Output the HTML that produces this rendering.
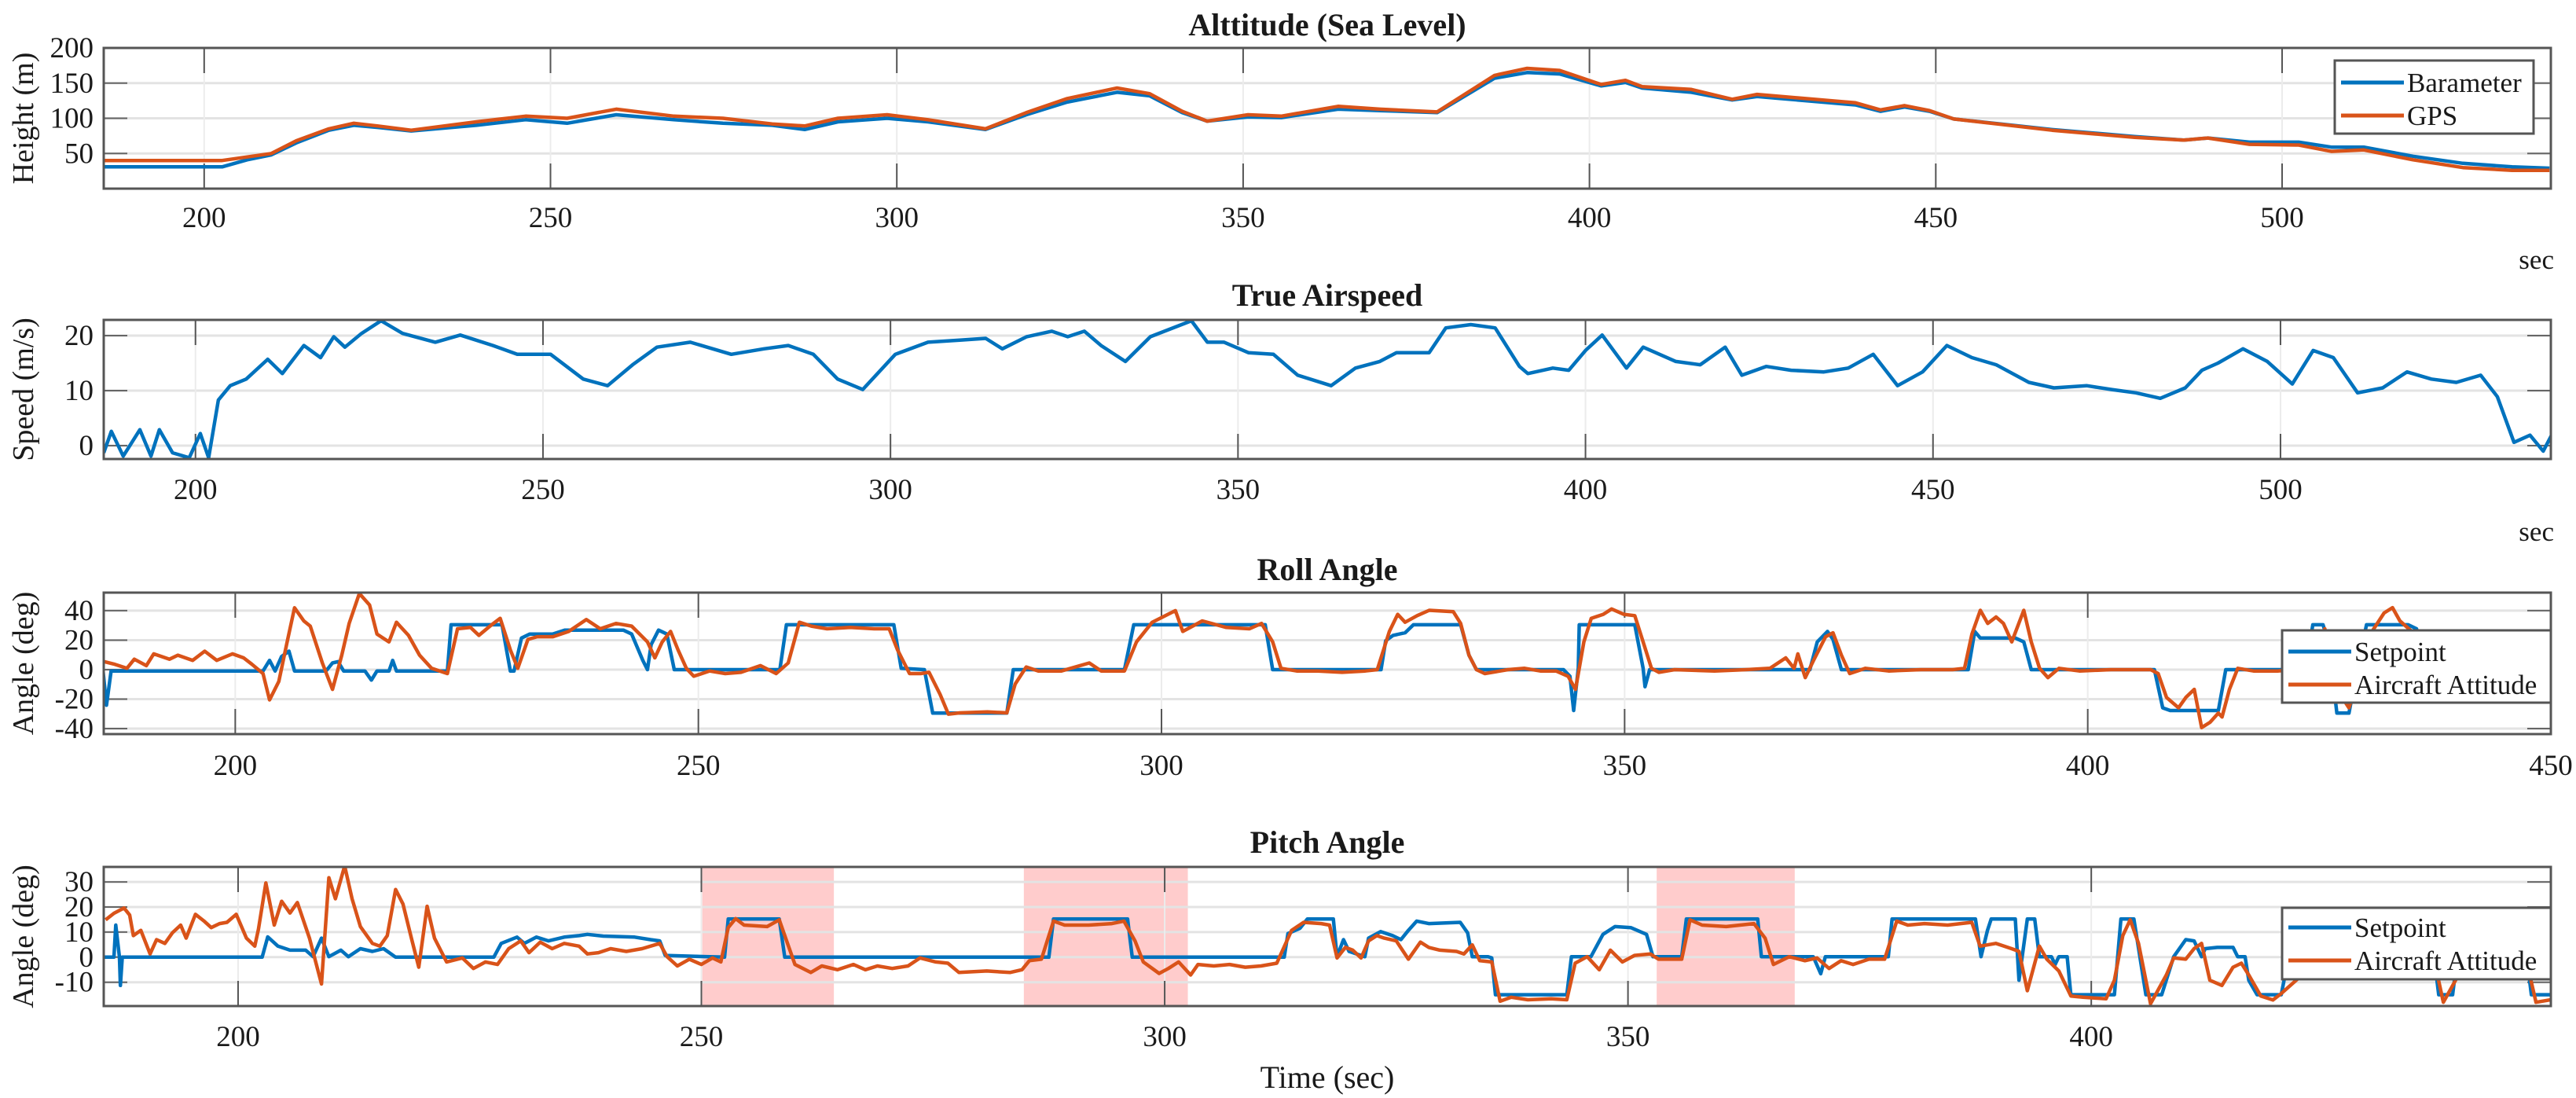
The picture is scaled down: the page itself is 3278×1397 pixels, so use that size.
<!DOCTYPE html>
<html><head><meta charset="utf-8"><style>
html,body{margin:0;padding:0;background:#fff;}
svg{display:block;}
text{font-family:"Liberation Serif",serif;fill:#1a1a1a;}
</style></head><body>
<svg id="fig" width="3278" height="1397" viewBox="0 0 3278 1397" xmlns="http://www.w3.org/2000/svg"></svg>
<script>
// ---------- Altitude data ----------
const altTime=[185.5,202.6,206.2,209.7,213.3,218.0,221.6,225.1,229.9,239.3,246.4,252.4,259.5,267.8,274.9,282.0,286.7,291.5,298.6,304.5,312.8,318.7,324.6,331.8,336.5,341.2,344.8,350.7,355.5,363.7,369.7,378.0,386.3,391.0,395.7,401.7,405.2,407.6,414.7,420.6,424.2,438.4,442.0,445.5,449.1,452.6,466.8,478.7,485.8,489.3,495.3,502.4,507.1,511.8,518.9,526.1,533.2,538.6];
const baroHeight=[31,31,41,48,65,83,90,87,82,90,98,93,105,98,93,90,84,95,100,95,84,105,123,137,132,108,96,102,101,113,111,108,157,165,163,146,151,143,137,126,131,119,110,116,110,99,84,74,69,72,66,66,59,59,46,36,31,29];
const gpsHeight=[40,40,45,50,68,85,93,89,83,95,103,100,113,103,100,92,89,100,105,98,85,108,128,143,135,110,96,105,103,117,113,109,161,171,168,148,154,145,141,127,134,122,112,118,111,99,83,73,69,72,63,62,53,55,41,30,26,26];
const altYTicks=[50,100,150,200];
const wideXTicks=[200,250,300,350,400,450,500];

// ---------- Airspeed data ----------
const tasTime=[186.8,187.9,189.6,192.0,193.6,194.8,196.7,199.1,200.7,201.9,203.3,205.0,207.3,210.4,212.5,215.6,218.0,219.9,221.5,223.9,226.7,229.8,234.5,238.1,242.8,246.3,251.1,255.8,259.3,262.9,266.4,271.2,277.1,281.8,285.3,288.9,292.4,296.0,300.7,305.4,310.2,313.7,316.1,319.6,323.2,325.5,327.9,330.3,333.8,337.4,343.3,345.6,348.0,351.5,355.1,358.6,363.4,366.9,370.4,372.8,377.5,379.9,383.5,387.0,390.5,391.7,395.3,397.6,400.0,402.4,405.9,408.3,413.0,416.5,420.1,422.5,426.0,429.6,434.3,437.8,441.4,444.9,448.5,452.0,455.6,459.1,463.8,467.4,472.1,475.7,479.2,482.7,486.3,488.7,491.0,494.6,498.1,501.7,504.7,507.6,511.1,514.7,518.2,521.7,525.3,528.8,531.2,533.6,535.9,537.8,539.0];
const tasSpeed=[-1.3,2.6,-1.9,2.9,-1.9,2.9,-1.3,-2.2,2.2,-2.2,8.3,10.9,12.1,15.7,13.1,18.2,16.0,19.8,17.9,20.4,22.7,20.4,18.8,20.1,18.2,16.6,16.6,12.1,10.9,14.7,17.9,18.8,16.6,17.6,18.2,16.6,12.1,10.2,16.6,18.8,19.2,19.5,17.6,19.8,20.8,19.8,20.8,18.2,15.3,19.8,22.7,18.8,18.8,16.9,16.6,12.8,10.9,14.1,15.3,16.9,16.9,21.4,22.0,21.4,14.4,13.1,14.1,13.7,17.3,20.1,14.1,17.9,15.3,14.7,17.9,12.8,14.4,13.7,13.4,14.1,16.6,10.9,13.4,18.2,16.0,14.7,11.5,10.5,10.9,10.2,9.6,8.6,10.5,13.7,15.0,17.6,15.3,11.2,17.3,16.0,9.6,10.5,13.4,12.1,11.5,12.8,8.9,0.6,1.9,-1.0,1.9];
const tasYTicks=[0,10,20];

// ---------- Roll data ----------
const rollAttTime=[185.3,187.0,188.3,189.1,190.4,191.2,192.9,193.8,195.4,196.7,198.0,199.7,200.9,201.8,203.0,203.7,204.7,205.6,206.4,207.4,208.1,209.4,210.5,211.5,212.3,213.4,214.5,215.3,216.6,217.4,218.7,219.9,221.2,222.9,224.0,225.4,226.3,227.5,228.6,229.7,230.5,231.6,232.6,234.3,236.0,237.9,239.4,241.1,242.8,244.5,245.3,246.1,247.0,247.8,248.7,249.5,251.2,252.9,254.6,256.7,258.4,259.7,260.9,262.2,263.9,266.4,269.0,270.6,271.5,272.8,274.0,274.9,276.1,277.0,278.2,281.2,283.3,284.2,285.4,286.7,289.2,292.2,293.5,296.0,297.3,299.0,301.5,302.3,304.4,307.0,309.5,310.8,312.0,312.9,314.6,316.9,319.5,322.0,323.3,324.6,325.5,326.3,327.6,328.9,331.5,332.3,333.2,334.0,334.9,337.4,339.2,340.9,342.6,343.9,344.7,345.6,346.4,347.7,348.6,349.9,351.1,352.0,352.9,353.7,355.4,359.7,363.1,365.7,367.4,368.3,368.7,369.5,370.4,371.7,372.5,373.4,374.3,376.0,378.5,382.0,385.4,386.7,387.5,388.4,389.2,390.1,390.9,391.8,393.1,393.9,394.8,395.7,396.9,399.1,402.5,406.8,407.6,408.5,409.8,410.6,411.5,412.3,413.2,414.1,414.5,415.3,416.2,417.9,420.5,423.9,425.6,426.9,428.2,429.0,430.7,432.0,432.9,433.7,435.0,437.0,440.0,450.0];
const rollAttitude=[6.3,3.6,0.9,7.1,2.7,10.7,7.1,9.8,6.3,12.5,6.3,10.7,8.0,3.6,-2.7,-20.5,-8.0,18.8,41.9,33,29.5,4.5,-13.4,9.8,31.3,51.6,43.8,24.1,18.8,32.1,23.2,9.8,0.9,-2.7,27.7,28.6,23.2,29.5,34.8,13.4,0.9,20.5,22.3,22.3,25.9,33.9,27.7,31.3,29.5,18.8,8.0,18.8,25.9,13.4,0.9,-4.5,-0.9,-2.7,-1.8,2.7,-2.7,4.5,32.1,29.5,27.7,28.6,27.7,27.7,13.4,-2.7,-2.7,-1.8,-16.8,-30.2,-29.3,-28.6,-29.3,-9.8,1.8,-0.9,-0.9,4.5,-0.9,-0.9,18.8,32.1,40,25.9,33,28.6,27.7,31.3,18.8,0.9,-0.9,-0.9,-1.8,-0.9,0,25.9,37.5,32.1,36.6,40.2,39.3,31.3,9.8,0,-2.7,0,0.9,-0.9,-0.9,-4.5,-13.4,18.8,34.8,37.5,41.1,37.5,36.6,18.8,0.9,-1.8,0,-0.9,0,0.9,8.0,0.9,10.7,-5.4,6.3,22.3,25,9.8,-2.7,0.9,-0.9,0,0,0.9,24.1,40.2,31.3,35.7,31.3,18.8,40.2,18.8,0.9,-5.4,0.9,-0.9,0,0,-2.7,-18.8,-25.9,-18.8,-13.4,-39.3,-35.7,-29.5,-32.1,-13.4,0.9,-0.9,-0.9,0.9,27.7,-13.4,-25.9,-9.8,25.9,38.4,42,33,25.9,0,0,0];
const rollSpTime=[185.3,185.7,186.1,186.6,203.0,203.7,204.3,205.0,205.8,206.4,209.8,210.5,211.1,211.7,214.0,214.7,215.3,216.6,217.0,217.4,222.9,223.3,228.8,229.7,230.1,230.9,231.8,234.3,235.6,241.9,242.8,244.0,244.5,244.9,245.7,246.6,247.4,258.8,259.5,271.1,271.9,274.4,275.3,283.3,284.0,296.0,297.0,311.2,312.0,316.9,323.7,324.2,325.0,326.3,327.2,332.3,333.2,334.0,343.4,344.1,344.5,345.0,345.1,351.1,352.0,352.2,352.7,370.0,370.8,371.9,372.5,373.4,387.1,387.8,388.4,392.2,393.1,393.9,407.2,408.1,408.9,414.1,414.9,423.5,424.3,425.4,426.0,426.9,428.2,429.0,430.1,434.6,435.5,436.3,450.0];
const rollSetpoint=[14.3,0.9,-24.1,-0.9,-0.9,6.3,-0.9,8.9,12.5,-0.9,-0.9,4.5,5.4,-0.9,-0.9,-7.1,-0.9,-0.9,6.3,-0.9,-0.9,30.4,30.4,-0.9,-0.9,21.4,24.1,24.1,26.8,26.8,24.1,6.3,0,17.0,26.8,24.1,0,0,30.4,30.4,0.9,0,-29.5,-29.5,0,0,30.4,30.4,0,0,0,19.6,23.2,25,30.4,30.4,9.8,0,0,-4.5,-27.7,0.9,30.4,30.4,0.9,-11.6,0,0,18.8,25.9,20.5,0,0,25.9,21.4,21.4,18.8,0,0,-25.9,-27.7,-27.7,0,0,30.4,30.4,18.8,-29.5,-29.5,-2.7,30.4,30.4,27.7,0,0];
const rollYTicks=[-40,-20,0,20,40];
const shortXTicks=[200,250,300,350,400,450];

// ---------- Pitch data ----------
const pitchAttTime=[185.7,186.6,187.7,188.3,188.7,189.5,190.5,191.2,192.1,192.9,193.8,194.4,195.4,196.3,197.1,198.0,198.8,199.8,200.9,201.8,202.2,203.0,203.9,204.7,205.6,206.4,207.7,209.0,209.8,210.5,211.5,212.3,213.2,214.5,215.3,216.1,217.0,217.8,218.7,219.5,220.4,221.2,222.5,224.2,225.4,226.7,228.0,229.2,230.5,231.4,232.6,233.9,235.2,236.8,237.7,238.9,240.2,241.9,243.6,245.5,246.3,247.4,248.7,250.0,251.2,252.1,252.9,253.7,254.6,257.1,258.4,259.2,260.1,261.8,263.0,264.7,266.4,267.7,269.0,270.6,272.3,273.6,275.3,276.6,277.8,280.8,283.3,284.6,285.4,286.7,288.0,289.2,291.8,294.3,295.6,296.8,297.7,299.4,300.4,301.5,302.8,303.6,305.3,307.0,308.7,310.4,312.1,313.7,315.0,316.9,317.8,318.6,319.5,320.3,321.2,322.0,322.9,323.7,325.0,326.3,327.6,328.5,329.7,331.5,332.3,333.2,334.0,335.3,336.2,337.4,339.2,341.7,343.4,344.3,345.6,346.9,348.1,349.4,350.7,352.4,353.3,355.8,356.7,358.0,360.6,363.6,364.8,365.7,367.4,369.1,370.4,371.7,373.0,374.3,376.0,377.7,379.0,380.2,382.0,384.5,387.1,388.0,389.7,391.4,392.2,393.1,394.4,395.2,396.5,397.8,399.1,401.6,402.5,403.4,404.2,405.1,406.4,408.1,408.9,410.2,411.1,411.9,412.8,414.1,415.3,416.2,417.0,418.3,419.6,420.5,424.0,430.0,437.0,438.0,439.5,442.0,447.0,448.0,449.6];
const pitchAttitude=[14.9,17.5,19.6,16.8,8.6,10.7,1.3,7.0,5.5,9.7,12.8,7.6,17.1,14.5,11.8,13.4,13.9,17.1,7.6,4.4,11.2,29.6,12.8,22.3,17.6,21.8,7.6,-10.7,31.7,23.3,36.4,23.3,12.2,5.5,4.4,8.6,27.0,21.2,7.6,-4.0,20.3,7.6,-1.9,-0.3,-4.5,-1.9,-2.9,3.4,6.5,1.8,6.0,3.4,5.5,4.4,1.3,1.8,3.4,2.3,3.4,5.5,0.2,-3.5,-0.8,-2.9,-0.3,-1.9,11.8,15.4,12.8,12.2,14.9,6.5,-2.9,-6.1,-3.5,-5.0,-2.9,-5.0,-3.5,-4.5,-3.5,-0.3,-1.9,-2.4,-6.1,-5.5,-6.1,-5.0,-1.4,-0.8,14.4,12.8,12.8,13.4,14.4,6.5,-1.9,-6.5,-4.5,-1.9,-7.1,-2.9,-3.5,-2.9,-4.0,-3.5,-2.4,10.7,13.9,13.4,12.8,-0.3,3.9,2.8,-0.3,6.5,8.6,7.6,6.5,-0.8,6.0,3.9,2.8,2.3,1.3,4.9,-1.4,-1.9,-17.6,-16.0,-17.0,-16.6,-17.0,-2.4,0.2,-5.0,2.8,-1.9,0.7,1.3,-0.8,-0.8,14.9,12.8,12.2,13.4,7.6,-2.9,0.2,-1.4,-0.3,-4.5,-1.4,-2.9,-0.8,-0.8,14.4,12.8,13.4,12.8,13.9,4.4,5.5,3.4,2.3,-13.4,4.4,-0.8,-5.5,-15.5,-16.0,-16.6,-9.2,8.6,14.9,5.5,-18.6,-7.1,-0.3,-0.8,3.4,5.5,-9.2,-11.3,-4.0,-2.4,-7.1,-15.5,-17.1,-14.5,-3,-5,-1,-18,-8,-3,-2,-18,-17];
const pitchSpTime=[185.3,186.6,186.8,187.2,187.3,187.5,202.6,203.2,204.3,205.6,207.3,208.1,209.0,209.8,211.1,211.9,213.2,214.5,215.7,217.0,227.6,228.4,230.1,230.9,232.2,233.5,235.2,236.8,237.7,239.4,242.8,244.5,245.5,246.1,252.5,252.9,258.4,259.0,287.5,288.0,296.0,296.5,312.9,313.3,314.6,315.4,318.2,318.6,319.3,319.9,321.6,322.0,323.3,324.6,325.5,326.3,327.2,328.5,331.9,332.7,333.2,334.9,335.3,335.7,343.4,343.9,346.0,347.3,348.6,350.3,352.0,352.7,355.8,356.3,364.0,364.4,370.0,370.8,371.3,378.1,378.5,387.5,388.1,388.8,389.2,391.8,392.2,393.1,393.9,394.4,395.7,396.1,396.5,397.4,397.8,402.5,403.2,404.6,405.9,407.6,408.9,410.2,411.1,411.9,412.3,413.6,415.3,415.8,416.6,417.0,417.9,420.5,421.3,437.0,437.5,439.0,439.5,447.0,447.5,449.6];
const pitchSetpoint=[0,0,12.8,0,-11.3,0,0,8.1,4.4,2.8,2.8,0.2,7.6,0.2,2.8,0.2,3.4,2.3,3.4,0,0,5.5,8.0,5.5,8.0,6.5,8.0,8.6,9.1,8.4,8.0,7.0,6.5,0.7,0,15.2,15.2,0,0,15.2,15.2,0,0,9.4,11.5,15.2,15.2,0.2,7.0,2.3,0.2,7.6,10.2,8.6,7.0,10.7,14.4,13.4,13.9,9.7,0.2,0.2,-0.3,-15,-15,0.2,0.2,9.1,12.2,11.8,9.1,0.2,0.2,15.2,15.2,0.2,0.2,-6.6,0.2,0.2,15.2,15.2,0.2,10.7,15.2,15.2,-9.2,15.2,15.2,0.2,0.2,-2.9,0.2,0.2,-15,-15,15.2,15.2,-15,-15,0.2,7.0,6.5,0.2,3.4,3.9,3.9,0.2,0.2,-9.2,-15,-15,0,0,-15,-15,0,0,-15,-15];
const pitchYTicks=[-10,0,10,20,30];
const pitchShadeStart=[250.1,284.8,353.1];
const pitchShadeEnd=[264.3,302.5,368.0];

// ---------- drawing ----------
const NS='http://www.w3.org/2000/svg';
const svg=document.getElementById('fig');
const BLUE='#0072BD', ORANGE='#D95319';
const TICKFS=37;
function el(tag,attrs,parent){const e=document.createElementNS(NS,tag);for(const k in attrs)e.setAttribute(k,attrs[k]);(parent||svg).appendChild(e);return e;}
function txt(s,attrs,parent){const e=el('text',attrs,parent);e.textContent=s;return e;}

function panel(cfg){
  const g=el('g',{});
  
  
  const L=132,R=3246,T=cfg.top,B=cfg.bottom;
  const sx=t=>L+(t-cfg.xmin)/(cfg.xmax-cfg.xmin)*(R-L);
  const sy=v=>B-(v-cfg.ymin)/(cfg.ymax-cfg.ymin)*(B-T);
  const cp='clip-'+cfg.name;
  const cl=el('clipPath',{id:cp},g);el('rect',{x:L,y:T,width:R-L,height:B-T},cl);
  if(cfg.shadeStart){cfg.shadeStart.forEach((s,i)=>{const r=el('rect',{x:sx(s),y:T,width:sx(cfg.shadeEnd[i])-sx(s),height:B-T,fill:'#ff9a9a','fill-opacity':0.5},g);
    
    });}
  cfg.yticks.forEach(v=>{el('line',{x1:L,x2:R,y1:sy(v),y2:sy(v),stroke:'#e3e3e3','stroke-width':3},g);
    el('line',{x1:L,x2:L+30,y1:sy(v),y2:sy(v),stroke:'#666','stroke-width':2},g);
    el('line',{x1:R-30,x2:R,y1:sy(v),y2:sy(v),stroke:'#666','stroke-width':2},g);
    const t=txt(String(v),{x:119,y:sy(v)+12,'font-size':TICKFS,'text-anchor':'end'},g);
    
    });
  cfg.xticks.forEach(v=>{const x=sx(v);if(x<L-1||x>R+1)return;
    el('line',{x1:x,x2:x,y1:T,y2:B,stroke:'#ececec','stroke-width':2},g);
    el('line',{x1:x,x2:x,y1:T,y2:T+32,stroke:'#555','stroke-width':2},g);
    el('line',{x1:x,x2:x,y1:B-32,y2:B,stroke:'#555','stroke-width':2},g);
    const t=txt(String(v),{x:x,y:cfg.xlabY+13,'font-size':TICKFS,'text-anchor':'middle'},g);
    
    });
  const lg=el('g',{'clip-path':'url(#'+cp+')'},g);
  cfg.series.forEach(s=>{const d=s.t.map((t,i)=>(i?'L':'M')+sx(t).toFixed(1)+' '+sy(s.v[i]).toFixed(1)).join(' ');
    const p=el('path',{d:d,fill:'none',stroke:s.color,'stroke-width':4.5,'stroke-linejoin':'round'},lg);
    
    });
  el('rect',{x:L,y:T,width:R-L,height:B-T,fill:'none',stroke:'#555','stroke-width':3},g);
  const tt=txt(cfg.title,{x:1689,y:cfg.titleY+14,'font-size':40,'font-weight':'bold','text-anchor':'middle'},g);
  
  
  const yl=txt(cfg.ylabel,{x:0,y:0,'font-size':38,'text-anchor':'middle',transform:'translate(42,'+((T+B)/2)+') rotate(-90)'},g);
  
  
  if(cfg.secY){const sc=txt('sec',{x:3250,y:cfg.secY+12,'font-size':35,'text-anchor':'end'},g);
    
    }
  if(cfg.legend){const lgd=cfg.legend;const lgG=el('g',{},g);
    
    
    el('rect',{x:lgd.x,y:lgd.y,width:lgd.w,height:lgd.h,fill:'#fff',stroke:'#555','stroke-width':3},lgG);
    lgd.items.forEach((it,i)=>{const yy=lgd.rows[i];
      el('line',{x1:lgd.x+8,x2:lgd.x+88,y1:yy,y2:yy,stroke:it.color,'stroke-width':5},lgG);
      const t=txt(it.label,{x:lgd.x+92,y:yy+12,'font-size':35},lgG);
      
      });}
}

panel({name:'altitude-panel',top:61,bottom:240,xmin:185.5,xmax:538.8,ymin:0,ymax:200,yticks:altYTicks,xticks:wideXTicks,xlabY:276,
  title:'Alttitude (Sea Level)',titleY:31,ylabel:'Height (m)',secY:330,
  series:[{name:'barometer-line',t:altTime,v:baroHeight,color:BLUE},{name:'gps-line',t:altTime,v:gpsHeight,color:ORANGE}],
  legend:{x:2971,y:77,w:253,h:93,rows:[105,147],items:[{label:'Barameter',color:BLUE},{label:'GPS',color:ORANGE}]}});
panel({name:'airspeed-panel',top:407,bottom:584,xmin:186.8,xmax:538.9,ymin:-2.43,ymax:22.86,yticks:tasYTicks,xticks:wideXTicks,xlabY:622,
  title:'True Airspeed',titleY:375,ylabel:'Speed (m/s)',secY:676,
  series:[{name:'airspeed-line',t:tasTime,v:tasSpeed,color:BLUE}]});
panel({name:'roll-panel',top:754,bottom:934,xmin:185.8,xmax:450,ymin:-43.7,ymax:52.2,yticks:rollYTicks,xticks:shortXTicks,xlabY:973,
  title:'Roll Angle',titleY:724,ylabel:'Angle (deg)',
  series:[{name:'roll-setpoint-line',t:rollSpTime,v:rollSetpoint,color:BLUE},{name:'roll-attitude-line',t:rollAttTime,v:rollAttitude,color:ORANGE}],
  legend:{x:2904,y:802,w:342,h:92,rows:[829,871],items:[{label:'Setpoint',color:BLUE},{label:'Aircraft Attitude',color:ORANGE}]}});
panel({name:'pitch-panel',top:1103,bottom:1280,xmin:185.5,xmax:449.6,ymin:-19.5,ymax:36,yticks:pitchYTicks,xticks:shortXTicks,xlabY:1318,
  title:'Pitch Angle',titleY:1071,ylabel:'Angle (deg)',shadeStart:pitchShadeStart,shadeEnd:pitchShadeEnd,
  series:[{name:'pitch-setpoint-line',t:pitchSpTime,v:pitchSetpoint,color:BLUE},{name:'pitch-attitude-line',t:pitchAttTime,v:pitchAttitude,color:ORANGE}],
  legend:{x:2904,y:1155,w:342,h:91,rows:[1180,1222],items:[{label:'Setpoint',color:BLUE},{label:'Aircraft Attitude',color:ORANGE}]}});
const xt=txt('Time (sec)',{x:1689,y:1384,'font-size':40,'text-anchor':'middle'});


</script>
</body></html>
